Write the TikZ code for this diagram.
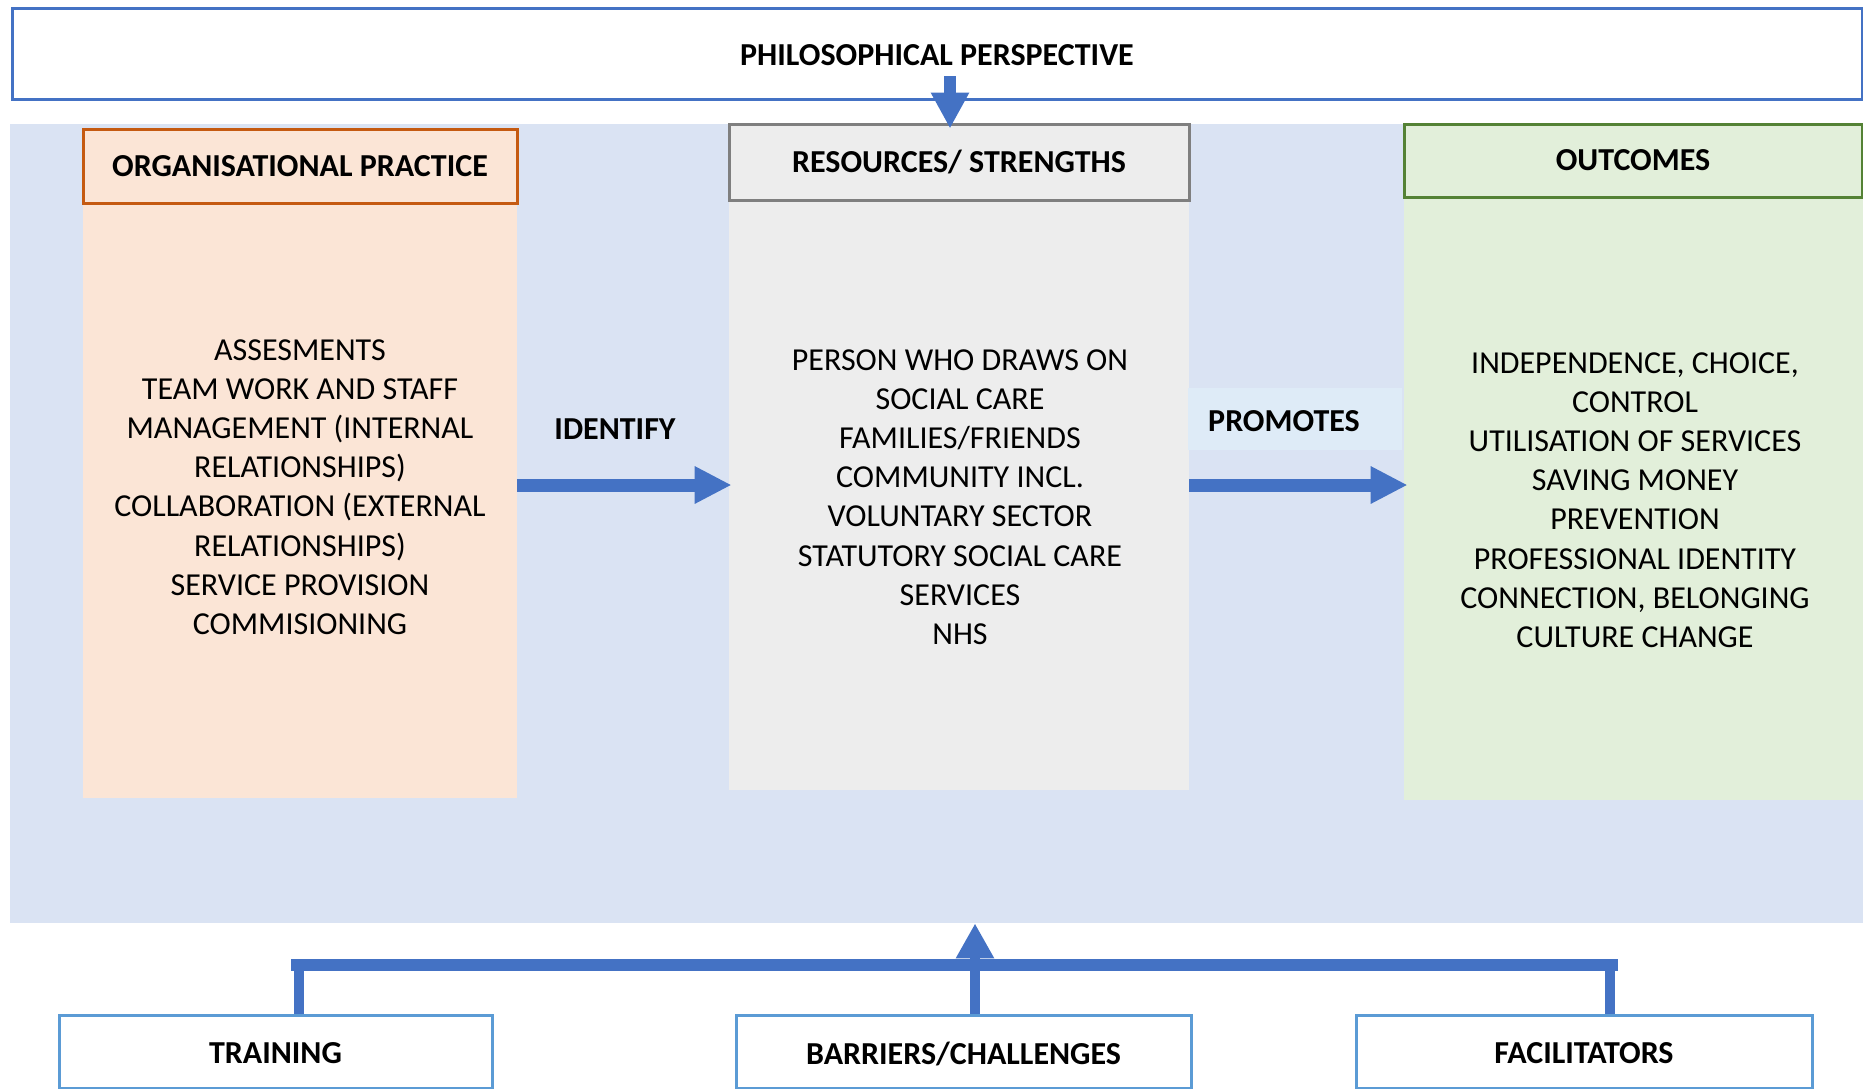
\documentclass[tikz,border=0pt]{standalone}
\usepackage{fontspec}
\setmainfont{Carlito}
\usetikzlibrary{arrows.meta, fit}

\definecolor{arrowblue}{HTML}{4472C4}
\definecolor{panelblue}{HTML}{DAE3F3}
\definecolor{labelblue}{HTML}{DEEBF7}
\definecolor{boxblue}{HTML}{5B9BD5}
\definecolor{orgfill}{HTML}{FBE5D6}
\definecolor{orgline}{HTML}{C55A11}
\definecolor{resfill}{HTML}{EDEDED}
\definecolor{resline}{HTML}{7F7F7F}
\definecolor{outfill}{HTML}{E2EFDA}
\definecolor{outcline}{HTML}{548235}

\tikzset{
	every node/.style = {font = \fontsize{16}{19.6}\selectfont},
	area/.style = {fit = {#1}, inner sep = 0pt},
	head/.style = {line width = 1.5pt},
	bold/.style = {font = \fontsize{16}{19.6}\selectfont\bfseries},
	bigarrow/.style = {line width = 6.5pt, arrowblue, -{Triangle[length = 18.5pt, width = 17.5pt]}},
	stem/.style = {line width = 5pt, arrowblue},
}

\begin{document}
\begin{tikzpicture}[x = 0.5pt, y = -0.5pt]
\useasboundingbox (0,0) rectangle (1863,1088);

\node[area = {(10,124) (1863,923)}, fill = panelblue] (panel) {};
\node[area = {(12,8) (1862,99)}, head, draw = arrowblue] (phil) {};
\node[bold] (philtext) at ([yshift = -1pt]phil.center) {PHILOSOPHICAL PERSPECTIVE};

% three columns
\node[area = {(83,129) (517,798)}, fill = orgfill] (org) {};
\node[area = {(83,129) (517,203)}, head, fill = orgfill, draw = orgline] (orghead) {};
\node[bold] (orgtitle) at (orghead.center) {ORGANISATIONAL PRACTICE};
\node[align = center] (orgtext) at (300,487) {ASSESMENTS\\TEAM WORK AND STAFF\\MANAGEMENT (INTERNAL\\RELATIONSHIPS)\\COLLABORATION (EXTERNAL\\RELATIONSHIPS)\\SERVICE PROVISION\\COMMISIONING};

\node[area = {(729,124) (1189,790)}, fill = resfill] (res) {};
\node[area = {(729,124) (1189,200)}, head, fill = resfill, draw = resline] (reshead) {};
\node[bold] (restitle) at (reshead.center) {RESOURCES/ STRENGTHS};
\node[align = center] (restext) at (960,497) {PERSON WHO DRAWS ON\\SOCIAL CARE\\FAMILIES/FRIENDS\\COMMUNITY INCL.\\VOLUNTARY SECTOR\\STATUTORY SOCIAL CARE\\SERVICES\\NHS};

\node[area = {(1404,124) (1863,800)}, fill = outfill] (out) {};
\node[area = {(1404,124) (1862,197)}, head, fill = outfill, draw = outcline] (outhead) {};
\node[bold] (outtitle) at (outhead.center) {OUTCOMES};
\node[align = center] (outtext) at (1635,500) {INDEPENDENCE, CHOICE,\\CONTROL\\UTILISATION OF SERVICES\\SAVING MONEY\\PREVENTION\\PROFESSIONAL IDENTITY\\CONNECTION, BELONGING\\CULTURE CHANGE};

% flow arrows
\coordinate (flow) at (0,485);
\draw[bigarrow] (org.east |- flow) -- ([xshift = 1.5pt]res.west |- flow);
\draw[bigarrow] (res.east |- flow) -- ([xshift = 2pt]out.west |- flow);

\node[bold] (identify) at (615,429) {IDENTIFY};
\node[area = {(1188,388) (1402,450)}, fill = labelblue] (promo) {};
\node[bold] (promotes) at (1284,421) {PROMOTES};

\coordinate (drop) at (950,76);
\draw[line width = 6pt, arrowblue, -{Triangle[length = 18pt, width = 18pt]}] (drop) -- ([yshift = -3pt]drop |- reshead.north);

% bottom boxes
\foreach \name/\xl/\xr/\txt in {training/59/492/TRAINING, barriers/736/1191/{BARRIERS/CHALLENGES}, facil/1356/1812/FACILITATORS} {
	\node[area = {(\xl,1015) (\xr,1088)}, head, draw = boxblue] (\name) {};
	\node[bold] (\name text) at ([yshift = -1pt]\name.center) {\txt};
}

\coordinate (leg1) at (299,965);
\coordinate (leg2) at (975,965);
\coordinate (leg3) at (1610,965);
\draw[stem] (leg1 |- training.north) -- (leg1);
\draw[stem] (leg2 |- barriers.north) -- (leg2);
\draw[stem] (leg3 |- facil.north) -- (leg3);
\draw[stem, line width = 6pt] ([xshift = -4pt]leg1) -- ([xshift = 4pt]leg3);
\draw[stem, -{Triangle[length = 17.5pt, width = 18pt]}] (leg2) -- (leg2 |- panel.south);

\end{tikzpicture}
\end{document}
